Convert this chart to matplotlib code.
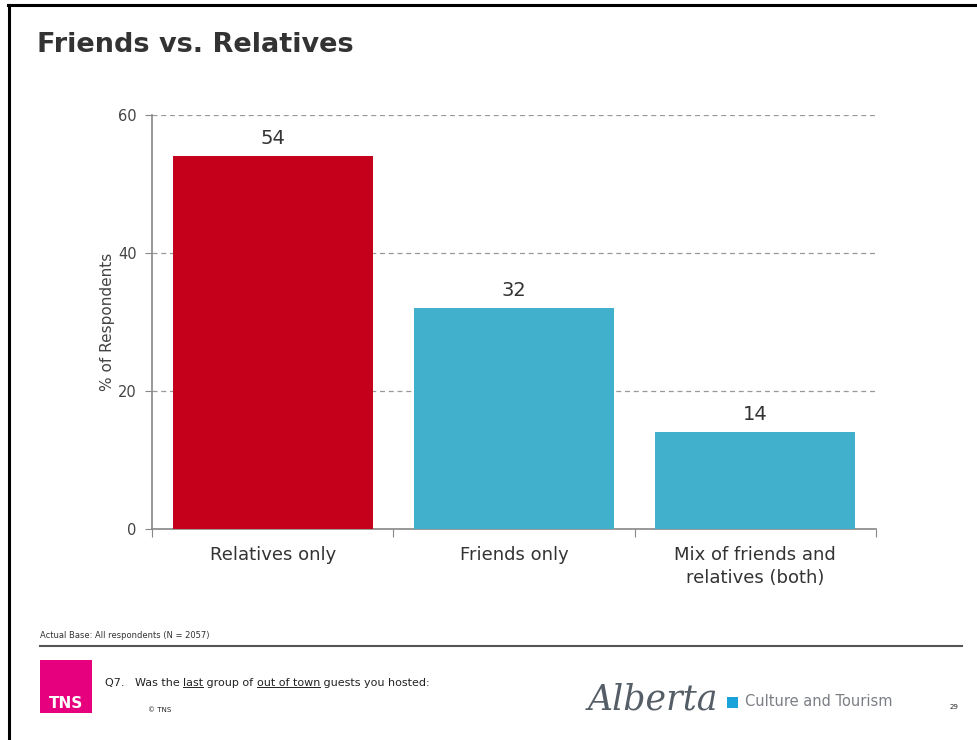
import matplotlib
matplotlib.use("Agg")
import matplotlib.pyplot as plt
from matplotlib.patches import Rectangle
from matplotlib.lines import Line2D

categories = ["Relatives only", "Friends only", "Mix of friends and\nrelatives (both)"]
values = [54, 32, 14]
bar_colors = ["#C4001A", "#40B0CD", "#40B0CD"]
y_ticks = [0, 20, 40, 60]

plt.rcParams["font.family"] = ["DejaVu Sans"]

fig = plt.figure(figsize=(9.77, 7.4), dpi=100)
fig.patch.set_facecolor("white")

# slide frame (top and left edges)
fig.add_artist(Line2D([8 / 977, 977 / 977], [1 - 5 / 740, 1 - 5 / 740], color="black", lw=2.2))
fig.add_artist(Line2D([9 / 977, 9 / 977], [0, 1 - 5 / 740], color="black", lw=2.2))

fig.text(37 / 977, 1 - 45 / 740, "Friends vs. Relatives", fontsize=19.5, fontweight="bold",
         color="#333333", va="center", ha="left")

ax = fig.add_axes([152 / 977, 1 - 529 / 740, (876 - 152) / 977, (529 - 115) / 740])
x = list(range(len(categories)))
bars = ax.bar(x, values, width=0.83, color=bar_colors, zorder=3)
for xi, v in zip(x, values):
    ax.annotate(str(v), (xi, v), xytext=(0, 6), textcoords="offset points",
                ha="center", va="bottom", fontsize=14, color="#333333")

ax.set_xlim(-0.5, 2.5)
ax.set_ylim(0, 60)
ax.set_yticks(y_ticks)
ax.set_yticklabels([str(t) for t in y_ticks], fontsize=10.5, color="#444444")
ax.yaxis.grid(True, linestyle=(0, (4, 3)), color="#999999", lw=0.9, zorder=0)
ax.set_axisbelow(True)

# category boundary ticks on x, labels centred under bars
ax.set_xticks([-0.5, 0.5, 1.5, 2.5])
ax.set_xticklabels([])
ax.set_xticks(x, minor=True)
ax.set_xticklabels(categories, minor=True, fontsize=13, color="#333333", linespacing=1.4)
ax.tick_params(axis="x", which="minor", length=0, pad=12)
ax.tick_params(axis="x", which="major", length=6, color="#888888", direction="out")
ax.tick_params(axis="y", length=5, color="#888888", pad=6)

for side in ["top", "right"]:
    ax.spines[side].set_visible(False)
for side in ["left", "bottom"]:
    ax.spines[side].set_color("#888888")
    ax.spines[side].set_linewidth(1.2)

ax.set_ylabel("% of Respondents", fontsize=11, color="#444444", labelpad=2)

# footer
fig.text(40 / 977, 1 - 636 / 740, "Actual Base: All respondents (N = 2057)", fontsize=6,
         color="#333333", va="center", ha="left")
fig.add_artist(Line2D([40 / 977, 962 / 977], [1 - 646 / 740, 1 - 646 / 740], color="#555555", lw=1.5))

fig.add_artist(Rectangle((40 / 977, 1 - 713 / 740), 52 / 977, 53 / 740,
                         transform=fig.transFigure, color="#E6007E", lw=0))
fig.text(66 / 977, 1 - 703 / 740, "TNS", fontsize=11, fontweight="bold", color="white",
         ha="center", va="center")

# question line with underlined words
q_parts = [("Q7.   Was the ", False), ("last", True), (" group of ", False),
           ("out of town", True), (" guests you hosted:", False)]
fig.canvas.draw()
renderer = fig.canvas.get_renderer()
qx = 105
qy = 1 - 683 / 740
for txt, under in q_parts:
    t = fig.text(qx / 977, qy, txt, fontsize=8, color="#222222", va="center", ha="left")
    bb = t.get_window_extent(renderer=renderer)
    if under:
        fig.add_artist(Line2D([bb.x0 / 977, bb.x1 / 977], [(bb.y0 + 1) / 740, (bb.y0 + 1) / 740],
                              color="#222222", lw=0.7))
    qx = bb.x1

fig.text(148 / 977, 1 - 710 / 740, "\u00a9 TNS", fontsize=5, color="#222222",
         va="center", ha="left")

# ministry logo
fig.text(588 / 977, 1 - 699 / 740, "Alberta", fontsize=25, style="italic", family="DejaVu Serif",
         color="#555E66", va="center", ha="left")
fig.add_artist(Rectangle((727 / 977, 1 - 708 / 740), 11 / 977, 11 / 740,
                         transform=fig.transFigure, color="#1AA3D8", lw=0))
fig.text(745 / 977, 1 - 702 / 740, "Culture and Tourism", fontsize=10.5, color="#7A7F85",
         va="center", ha="left")
fig.text(950 / 977, 1 - 707 / 740, "29", fontsize=5, color="#222222", va="center", ha="left")

fig.savefig("out.png", dpi=100, facecolor="white")
